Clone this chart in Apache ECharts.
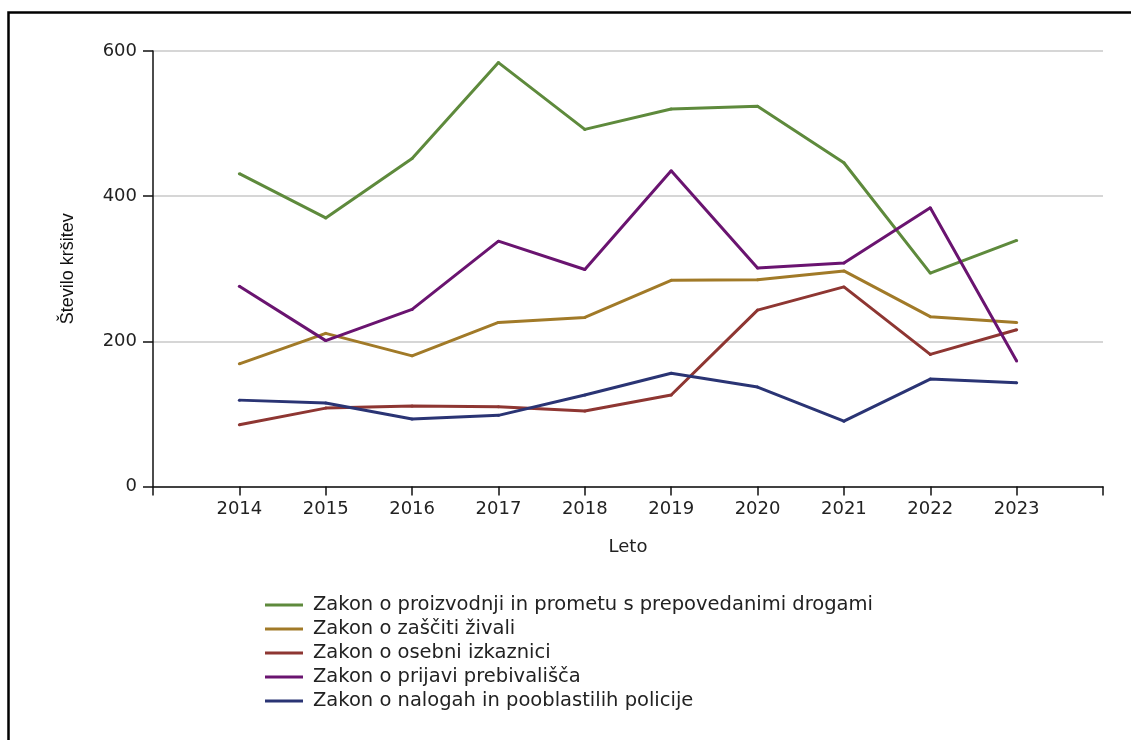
<!DOCTYPE html>
<html>
<head>
<meta charset="utf-8">
<script src="https://cdn.jsdelivr.net/npm/echarts@6/dist/echarts.min.js"></script>
<style>
html,body{margin:0;padding:0;background:#fff;}
#chart{width:1131px;height:740px;}
</style>
</head>
<body>
<div id="chart"></div>
<script>
const years = [2014, 2015, 2016, 2017, 2018, 2019, 2020, 2021, 2022, 2023];
const seriesNames = [
  'Zakon o proizvodnji in prometu s prepovedanimi drogami',
  'Zakon o zaščiti živali',
  'Zakon o osebni izkaznici',
  'Zakon o prijavi prebivališča',
  'Zakon o nalogah in pooblastilih policije'
];
const drogami = [431, 370, 452, 584, 492, 520, 524, 446, 294, 339];
const zivali = [169, 211, 180, 226, 233, 284, 285, 297, 234, 226];
const izkaznici = [85, 108, 111, 110, 104, 126, 243, 275, 182, 216];
const prebivalisca = [276, 201, 244, 338, 299, 435, 301, 308, 384, 173];
const policije = [119, 115, 93, 98, 126, 156, 137, 90, 148, 143];
const yTicks = [0, 200, 400, 600];
const colors = ['#5e8a3c', '#a17a28', '#8e3632', '#6a1470', '#2a3474'];

const allData = [drogami, zivali, izkaznici, prebivalisca, policije];
const font = '"DejaVu Sans", Verdana, sans-serif';

const chart = echarts.init(document.getElementById('chart'));
chart.setOption({
  animation: false,
  backgroundColor: '#fff',
  graphic: [{
    type: 'rect',
    left: 6, top: 10,
    shape: { x: 0, y: 0, width: 1200, height: 800 },
    style: { fill: 'none', stroke: '#000', lineWidth: 2.5 },
    silent: true
  }],
  grid: { left: 153, right: 28, top: 51, bottom: 253.5, containLabel: false },
  xAxis: {
    type: 'value',
    min: 2013, max: 2024, interval: 1,
    name: 'Leto',
    nameLocation: 'middle',
    nameGap: 52,
    nameTextStyle: { fontFamily: font, fontSize: 18, color: '#222' },
    axisLine: { show: true, lineStyle: { color: '#111', width: 1.5 } },
    axisTick: { show: true, length: 9, lineStyle: { color: '#111', width: 1.5 } },
    axisLabel: {
      margin: 14,
      fontFamily: font, fontSize: 18, color: '#222',
      formatter: v => (years.indexOf(v) >= 0 ? String(v) : '')
    },
    splitLine: { show: false }
  },
  yAxis: {
    type: 'value',
    min: yTicks[0], max: yTicks[yTicks.length - 1], interval: 200,
    name: 'Število kršitev',
    nameLocation: 'middle',
    nameRotate: 90,
    nameGap: 76,
    nameTextStyle: { fontFamily: '"Liberation Sans Narrow", "Liberation Sans", sans-serif', fontSize: 18, color: '#111' },
    axisLine: { show: true, lineStyle: { color: '#111', width: 1.5 } },
    axisTick: { show: true, length: 10, lineStyle: { color: '#111', width: 1.5 } },
    axisLabel: { margin: 16, fontFamily: font, fontSize: 18, color: '#222' },
    splitLine: { show: true, lineStyle: { color: '#d6d6d6', width: 2 } }
  },
  legend: {
    orient: 'vertical',
    left: 265, top: 595,
    padding: 0,
    icon: 'rect',
    itemWidth: 38, itemHeight: 3,
    itemGap: 4,
    data: seriesNames,
    textStyle: { fontFamily: font, fontSize: 19.5, color: '#222', padding: [0, 0, 0, 5], lineHeight: 19 }
  },
  series: seriesNames.map((name, i) => ({
    name: name,
    type: 'line',
    data: years.map((y, j) => [y, allData[i][j]]),
    symbol: 'circle',
    symbolSize: 3,
    showSymbol: true,
    color: colors[i],
    lineStyle: { width: 3, color: colors[i] },
    itemStyle: { color: colors[i] }
  }))
});
</script>
</body>
</html>
